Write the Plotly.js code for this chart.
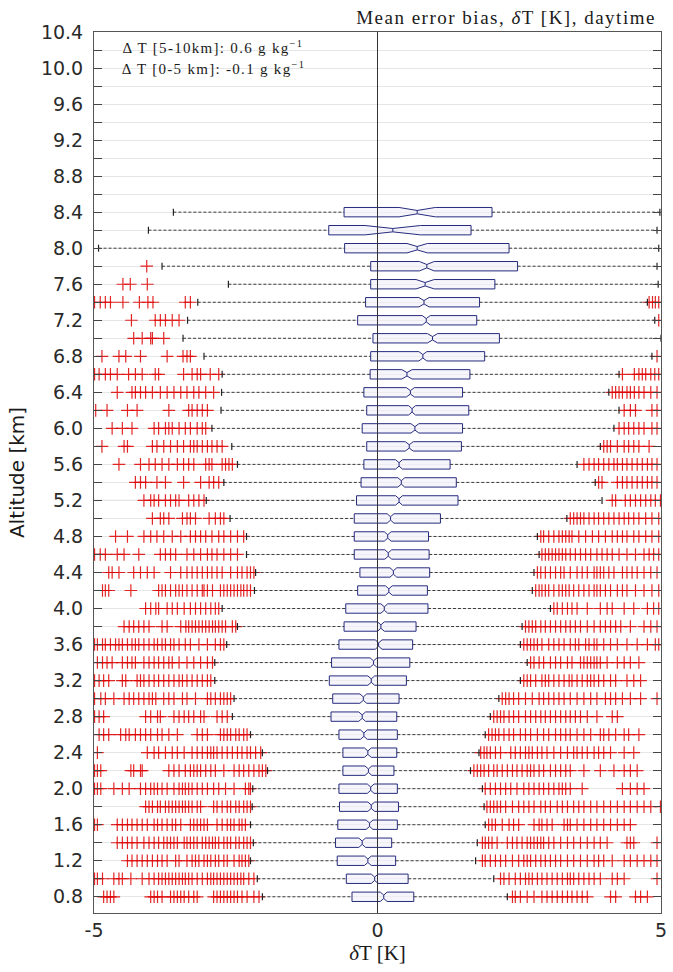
<!DOCTYPE html>
<html>
<head>
<meta charset="utf-8">
<script src="https://cdn.plot.ly/plotly-3.0.1.min.js"></script>
<style>
  html, body { margin: 0; padding: 0; background: #fff; }
  #chart { width: 673px; height: 972px; }
  /* the serif captions are set a little wider, like TeX text */
  #chart .gtitle { letter-spacing: 1.5px; }
  #chart .annotation-text { letter-spacing: 1.3px; }
</style>
</head>
<body>
<div id="chart"></div>
<script>
// Altitude levels [km] of each box, bottom to top
const altitude = [0.8, 1.0, 1.2, 1.4, 1.6, 1.8, 2.0, 2.2, 2.4, 2.6, 2.8, 3.0, 3.2, 3.4, 3.6, 3.8, 4.0, 4.2, 4.4, 4.6,
                  4.8, 5.0, 5.2, 5.4, 5.6, 5.8, 6.0, 6.2, 6.4, 6.6, 6.8, 7.0, 7.2, 7.4, 7.6, 7.8, 8.0, 8.2, 8.4];

// Box statistics of the temperature error dT [K]
const q1 = [-0.45, -0.55, -0.71, -0.74, -0.70, -0.67, -0.68, -0.61, -0.61, -0.68, -0.82, -0.79, -0.85, -0.81, -0.68, -0.59, -0.56, -0.35, -0.31, -0.41,
            -0.41, -0.41, -0.37, -0.29, -0.24, -0.19, -0.27, -0.19, -0.24, -0.13, -0.12, -0.08, -0.35, -0.21, -0.12, -0.12, -0.58, -0.86, -0.59];
const median = [0.11, -0.05, -0.17, -0.27, -0.14, -0.11, -0.12, -0.16, -0.17, -0.24, -0.27, -0.25, -0.11, -0.07, 0.02, 0.06, 0.12, 0.20, 0.28, 0.19,
                0.18, 0.23, 0.38, 0.42, 0.38, 0.56, 0.66, 0.61, 0.58, 0.52, 0.80, 0.97, 0.86, 0.82, 0.84, 0.87, 0.70, 0.27, 0.70];
const q3 = [0.64, 0.54, 0.32, 0.25, 0.35, 0.37, 0.35, 0.29, 0.34, 0.35, 0.34, 0.38, 0.51, 0.57, 0.62, 0.68, 0.89, 0.88, 0.92, 0.91,
            0.90, 1.11, 1.42, 1.39, 1.28, 1.48, 1.50, 1.61, 1.50, 1.63, 1.89, 2.15, 1.75, 1.80, 2.07, 2.47, 2.32, 1.65, 2.02];
const notchHalf = [0.06, 0.06, 0.06, 0.06, 0.06, 0.06, 0.06, 0.06, 0.06, 0.06, 0.06, 0.06, 0.06, 0.06, 0.06, 0.06, 0.06, 0.06, 0.06, 0.06,
                   0.06, 0.06, 0.06, 0.06, 0.06, 0.07, 0.07, 0.06, 0.07, 0.09, 0.07, 0.09, 0.07, 0.09, 0.16, 0.13, 0.18, 0.49, 0.32];
const whiskerLow = [-2.03, -2.12, -2.24, -2.19, -2.24, -2.21, -2.20, -1.94, -2.03, -2.24, -2.56, -2.53, -2.87, -2.87, -2.66, -2.47, -2.74, -2.17, -2.15, -2.31,
                    -2.31, -2.60, -3.02, -2.71, -2.47, -2.57, -2.92, -2.76, -2.75, -2.74, -3.06, -3.43, -3.35, -3.17, -2.63, -3.80, -4.92, -4.04, -3.60];
const whiskerHigh = [2.29, 2.05, 1.73, 1.76, 1.90, 1.88, 1.85, 1.64, 1.79, 1.90, 1.99, 2.14, 2.52, 2.64, 2.52, 2.55, 3.05, 2.73, 2.76, 2.85,
                     2.82, 3.34, 3.96, 3.84, 3.52, 3.93, 4.17, 4.26, 4.08, 4.26, 4.84, 5.00, 4.89, 4.76, 4.95, 4.93, 4.96, 4.93, 4.98];

// Outliers below the lower whisker, one list per altitude level
const outliersLow = [
  [-4.83,-4.77,-4.71,-4.65,-4.00,-3.94,-3.88,-3.80,-3.65,-3.59,-3.53,-3.47,-3.41,-3.33,-3.24,-3.18,-2.89,-2.83,-2.77,-2.71,-2.65,-2.59,-2.53,-2.47,-2.39,-2.30,-2.18,-2.09],
  [-4.99,-4.94,-4.85,-4.65,-4.56,-4.50,-4.35,-4.15,-4.03,-3.94,-3.86,-3.80,-3.74,-3.68,-3.62,-3.56,-3.50,-3.44,-3.39,-3.33,-3.27,-3.18,-3.09,-3.00,-2.94,-2.89,-2.83,-2.77,-2.71,-2.65,-2.59,-2.53,-2.47,-2.41,-2.36,-2.27,-2.18],
  [-4.41,-4.33,-4.24,-4.15,-4.06,-3.97,-3.88,-3.80,-3.71,-3.56,-3.50,-3.36,-3.27,-3.21,-3.15,-3.06,-3.00,-2.94,-2.86,-2.80,-2.71,-2.65,-2.53,-2.44,-2.39,-2.33,-2.27],
  [-4.59,-4.50,-4.41,-4.33,-4.24,-4.12,-4.03,-3.94,-3.86,-3.77,-3.71,-3.65,-3.59,-3.53,-3.41,-3.36,-3.30,-3.24,-3.18,-3.09,-3.03,-2.97,-2.91,-2.86,-2.80,-2.71,-2.65,-2.59,-2.50,-2.44,-2.36,-2.30,-2.24],
  [-4.99,-4.94,-4.59,-4.50,-4.41,-4.33,-4.24,-4.15,-4.06,-3.94,-3.88,-3.80,-3.71,-3.62,-3.56,-3.47,-3.30,-3.24,-3.18,-3.12,-3.06,-3.00,-2.83,-2.74,-2.65,-2.59,-2.53,-2.44,-2.39,-2.33],
  [-4.09,-4.03,-3.97,-3.88,-3.83,-3.74,-3.68,-3.62,-3.56,-3.50,-3.44,-3.39,-3.33,-3.27,-3.18,-3.12,-2.89,-2.83,-2.74,-2.65,-2.59,-2.50,-2.44,-2.36,-2.30,-2.24],
  [-4.99,-4.94,-4.88,-4.65,-4.50,-4.38,-4.18,-4.09,-4.00,-3.94,-3.88,-3.80,-3.71,-3.59,-3.50,-3.44,-3.39,-3.33,-3.27,-3.18,-3.09,-3.00,-2.89,-2.80,-2.68,-2.53,-2.33,-2.27,-2.24],
  [-4.99,-4.94,-4.88,-4.35,-4.30,-4.18,-4.15,-3.68,-3.59,-3.50,-3.39,-3.30,-3.24,-3.18,-3.12,-3.03,-2.94,-2.86,-2.71,-2.53,-2.44,-2.36,-2.27,-2.18,-2.09,-2.03,-1.97],
  [-4.94,-4.06,-3.94,-3.86,-3.74,-3.62,-3.53,-3.41,-3.27,-3.18,-3.09,-3.00,-2.94,-2.89,-2.83,-2.74,-2.65,-2.56,-2.47,-2.39,-2.30,-2.24,-2.15,-2.06],
  [-4.91,-4.83,-4.74,-4.53,-4.44,-4.38,-4.27,-4.18,-4.09,-4.00,-3.88,-3.80,-3.68,-3.53,-3.18,-3.09,-3.00,-2.77,-2.71,-2.65,-2.59,-2.50,-2.44,-2.36,-2.30],
  [-4.99,-4.91,-4.83,-4.09,-4.00,-3.88,-3.83,-3.59,-3.50,-3.41,-3.33,-3.24,-3.12,-3.06,-2.83,-2.74,-2.65],
  [-4.99,-4.88,-4.80,-4.65,-4.47,-4.38,-4.30,-4.21,-4.12,-4.03,-3.97,-3.91,-3.77,-3.68,-3.59,-3.44,-3.36,-3.21,-3.00,-2.94,-2.86,-2.77,-2.71,-2.65,-2.59],
  [-4.99,-4.91,-4.83,-4.74,-4.50,-4.44,-4.24,-4.18,-4.12,-4.03,-3.94,-3.86,-3.77,-3.68,-3.59,-3.50,-3.44,-3.36,-3.27,-3.18,-3.09,-3.00,-2.94],
  [-4.94,-4.85,-4.77,-4.68,-4.50,-4.41,-4.33,-4.27,-4.12,-4.03,-3.94,-3.86,-3.77,-3.68,-3.62,-3.50,-3.36,-3.24,-3.12,-3.00,-2.91],
  [-4.99,-4.94,-4.85,-4.80,-4.71,-4.62,-4.56,-4.50,-4.41,-4.33,-4.27,-4.21,-4.12,-4.03,-3.94,-3.88,-3.80,-3.74,-3.65,-3.59,-3.50,-3.39,-3.30,-3.15,-3.00,-2.86,-2.77,-2.71],
  [-4.47,-4.38,-4.30,-4.21,-4.12,-4.03,-3.80,-3.71,-3.47,-3.38,-3.33,-3.27,-3.21,-3.15,-3.09,-3.03,-2.97,-2.91,-2.86,-2.80,-2.74,-2.68,-2.56,-2.50],
  [-4.09,-4.00,-3.91,-3.86,-3.71,-3.62,-3.53,-3.41,-3.30,-3.21,-3.12,-3.03,-2.94,-2.86,-2.80],
  [-4.85,-4.80,-4.74,-4.35,-3.86,-3.80,-3.74,-3.65,-3.56,-3.50,-3.44,-3.36,-3.27,-3.18,-3.09,-3.06,-3.00,-2.91,-2.77,-2.71,-2.65,-2.59,-2.53,-2.47,-2.41,-2.36,-2.30,-2.24],
  [-4.74,-4.68,-4.56,-4.30,-4.18,-4.06,-3.94,-3.65,-3.47,-3.36,-3.27,-3.18,-3.09,-3.00,-2.92,-2.83,-2.74,-2.59,-2.47,-2.39,-2.30,-2.24,-2.18],
  [-4.99,-4.89,-4.80,-4.59,-4.47,-4.21,-3.83,-3.74,-3.65,-3.56,-3.36,-3.24,-3.12,-3.00,-2.92,-2.83,-2.71,-2.59,-2.47],
  [-4.62,-4.41,-4.12,-4.00,-3.89,-3.77,-3.62,-3.47,-3.30,-3.21,-3.12,-3.03,-2.92,-2.80,-2.71,-2.59,-2.47,-2.36],
  [-3.97,-3.83,-3.77,-3.68,-3.44,-3.36,-3.30,-3.21,-2.97,-2.86,-2.77,-2.71],
  [-4.12,-4.00,-3.94,-3.86,-3.74,-3.65,-3.56,-3.50,-3.33,-3.24,-3.15,-3.06],
  [-4.27,-4.18,-4.09,-3.89,-3.74,-3.42,-3.12,-2.97,-2.89,-2.80],
  [-4.56,-4.18,-4.03,-3.92,-3.80,-3.68,-3.53,-3.42,-3.33,-3.24,-3.03,-2.97,-2.92,-2.74,-2.68,-2.62,-2.56],
  [-4.86,-4.47,-4.41,-3.97,-3.89,-3.77,-3.65,-3.53,-3.42,-3.30,-3.24,-3.18,-3.09,-3.00,-2.92,-2.83,-2.74],
  [-4.68,-4.50,-4.33,-3.94,-3.86,-3.74,-3.68,-3.62,-3.50,-3.39,-3.30,-3.18,-3.09,-3.03],
  [-4.97,-4.77,-4.41,-4.24,-3.68,-3.33,-3.27,-3.18,-3.09,-3.00],
  [-4.59,-4.33,-4.27,-4.18,-4.09,-3.97,-3.83,-3.71,-3.59,-3.47,-3.36,-3.24,-3.15,-3.03,-2.89],
  [-4.99,-4.91,-4.80,-4.71,-4.59,-4.39,-4.27,-4.15,-3.92,-3.86,-3.42,-3.27,-3.18,-3.12,-2.95,-2.80],
  [-4.86,-4.56,-4.44,-4.18,-3.71,-3.43,-3.36,-3.30],
  [-4.30,-4.15,-4.00,-3.97,-3.77],
  [-4.34,-3.92,-3.83,-3.74,-3.62,-3.50],
  [-4.99,-4.89,-4.80,-4.71,-4.49,-4.20,-4.05,-3.96,-3.39,-3.30],
  [-4.49,-4.36,-4.06],
  [-4.07],
  [],
  [],
  []
];

// Outliers above the upper whisker, one list per altitude level
const outliersHigh = [
  [2.38,2.43,2.52,2.64,2.76,2.90,2.99,3.08,3.17,3.26,3.35,3.43,3.52,3.61,3.70,4.11,4.20,4.55,4.64,4.76],
  [2.17,2.23,2.32,2.43,2.52,2.61,2.67,2.73,2.82,2.90,2.99,3.08,3.17,3.26,3.35,3.40,3.46,3.55,3.64,3.73,3.82,3.93,4.14,4.23,4.35,4.93],
  [1.85,1.90,1.99,2.08,2.17,2.26,2.38,2.49,2.58,2.64,2.70,2.79,2.88,2.96,3.05,3.14,3.23,3.35,3.46,3.58,3.70,3.82,3.90,3.99,4.14,4.35,4.46,4.58,4.70,4.82,4.93],
  [1.85,1.90,1.96,2.02,2.11,2.29,2.38,2.46,2.55,2.64,2.70,2.76,2.82,2.88,2.93,3.02,3.11,3.23,3.35,3.46,3.58,3.70,3.82,3.93,4.05,4.40,4.46,4.52,4.93],
  [1.96,2.02,2.08,2.20,2.32,2.40,2.49,2.76,2.85,2.90,2.99,3.08,3.29,3.35,3.40,3.52,3.64,3.76,3.87,3.99,4.11,4.23,4.35,4.46],
  [1.93,1.99,2.05,2.11,2.17,2.26,2.38,2.49,2.58,2.67,2.76,2.88,2.96,3.05,3.17,3.26,3.35,3.46,3.55,3.64,3.76,3.87,3.99,4.11,4.23,4.35,4.46,4.58,4.70,4.82,4.99],
  [1.90,1.99,2.08,2.17,2.26,2.35,2.46,2.58,2.67,2.76,2.85,2.93,3.02,3.11,3.20,3.26,3.32,3.40,3.61,4.32,4.46,4.58,4.70],
  [1.70,1.76,1.82,1.88,1.96,2.05,2.11,2.20,2.29,2.38,2.46,2.55,2.64,2.70,2.76,2.85,2.93,3.05,3.14,3.23,3.32,3.40,3.64,3.93,4.17,4.35,4.46,4.58],
  [1.82,1.88,1.93,1.99,2.08,2.17,2.35,2.43,2.52,2.61,2.67,2.73,2.82,2.90,2.99,3.11,3.23,3.35,3.46,3.52,3.61,3.70,3.82,3.90,3.99,4.11,4.35,4.52],
  [1.96,2.02,2.08,2.14,2.23,2.32,2.40,2.52,2.61,2.70,2.82,2.93,3.02,3.14,3.23,3.32,3.40,3.52,3.64,3.76,3.93,3.99,4.08,4.20,4.35,4.43,4.61],
  [2.05,2.11,2.17,2.23,2.32,2.40,2.49,2.61,2.70,2.79,2.88,2.96,3.05,3.14,3.23,3.32,3.40,3.49,3.58,3.70,3.87,4.14,4.23],
  [2.20,2.26,2.32,2.40,2.49,2.61,2.73,2.85,2.93,3.02,3.11,3.20,3.29,3.40,3.52,3.64,3.76,3.87,4.02,4.11,4.20,4.32,4.46,4.64,4.93],
  [2.58,2.64,2.70,2.79,2.90,2.96,3.02,3.11,3.20,3.29,3.38,3.43,3.52,3.61,3.70,3.76,3.82,3.90,3.99,4.11,4.20,4.40,4.52,4.64],
  [2.70,2.76,2.85,2.93,3.05,3.14,3.23,3.35,3.43,3.58,3.64,3.70,3.76,3.82,3.87,3.93,4.05,4.23,4.35,4.46,4.61],
  [2.58,2.64,2.70,2.76,2.82,2.90,3.02,3.11,3.20,3.29,3.40,3.49,3.55,3.67,3.73,3.82,3.87,3.99,4.11,4.23,4.40,4.58,4.76,4.90,4.96],
  [2.61,2.67,2.73,2.79,2.88,2.96,3.05,3.14,3.23,3.32,3.40,3.49,3.58,3.70,3.82,3.93,4.02,4.11,4.20,4.29,4.46,4.70,4.82,4.93],
  [3.11,3.17,3.26,3.35,3.43,3.52,3.70,3.93,4.05,4.14,4.35,4.52,4.76,4.87,4.96],
  [2.79,2.85,2.90,2.96,3.02,3.11,3.20,3.26,3.32,3.38,3.46,3.55,3.64,3.73,3.82,3.87,3.93,4.02,4.11,4.23,4.32,4.40,4.55,4.70,4.84,4.96],
  [2.82,2.88,2.96,3.05,3.14,3.23,3.29,3.40,3.52,3.61,3.70,3.82,3.87,3.93,3.99,4.08,4.17,4.32,4.40,4.49,4.58,4.70,4.82,4.93],
  [2.90,2.96,3.02,3.08,3.14,3.20,3.26,3.32,3.40,3.49,3.58,3.67,3.76,3.87,3.96,4.05,4.14,4.26,4.40,4.55,4.70,4.79,4.87,4.96],
  [2.88,2.93,3.02,3.11,3.20,3.26,3.32,3.38,3.43,3.55,3.67,3.79,3.90,4.02,4.14,4.23,4.32,4.40,4.52,4.61,4.73,4.84,4.96],
  [3.40,3.46,3.52,3.58,3.64,3.73,3.82,3.90,3.99,4.08,4.17,4.26,4.35,4.43,4.52,4.61,4.73,4.84,4.96],
  [4.14,4.20,4.37,4.46,4.55,4.64,4.73,4.82,4.90,4.99],
  [3.90,3.96,4.23,4.32,4.40,4.49,4.58,4.67,4.76,4.84,4.93],
  [3.64,3.73,3.82,3.90,3.99,4.08,4.17,4.23,4.32,4.40,4.49,4.58,4.67,4.76,4.84,4.93],
  [3.99,4.05,4.11,4.23,4.35,4.43,4.52,4.61,4.79],
  [4.26,4.35,4.43,4.52,4.61,4.70,4.84,4.93],
  [4.35,4.46,4.55,4.84,4.93],
  [4.14,4.20,4.26,4.32,4.40,4.46,4.53,4.61,4.70,4.82,4.93],
  [4.32,4.53,4.61,4.67,4.73,4.82,4.89,4.96],
  [4.93],
  [],
  [4.96],
  [4.79,4.85,4.90,4.96],
  [],
  [],
  [],
  [],
  []
];

// Labelled altitude ticks and the in-figure summary lines
const altitudeTicks = [0.8, 1.2, 1.6, 2.0, 2.4, 2.8, 3.2, 3.6, 4.0, 4.4, 4.8, 5.2, 5.6, 6.0, 6.4, 6.8, 7.2, 7.6, 8.0, 8.4, 8.8, 9.2, 9.6, 10.0, 10.4];
const errorTicks = [-5, 0, 5];
const summaryLines = [
  'Δ T [5-10km]: 0.6 g kg<sup>−1</sup>',
  'Δ T [0-5 km]: -0.1 g kg<sup>−1</sup>'
];

// ---- traces ----
const outX = [], outY = [];
altitude.forEach((alt, i) => {
  outliersLow[i].concat(outliersHigh[i]).forEach(v => { outX.push(v); outY.push(alt); });
});

const whiskX = [], whiskY = [];
const capX = [], capY = [];
altitude.forEach((alt, i) => {
  whiskX.push(whiskerLow[i], q1[i], null, q3[i], whiskerHigh[i], null);
  whiskY.push(alt, alt, null, alt, alt, null);
  capX.push(whiskerLow[i], whiskerHigh[i]);
  capY.push(alt, alt);
});

const outlierTrace = {
  type: 'scatter', mode: 'markers', x: outX, y: outY,
  marker: { symbol: 'cross-thin', size: 9, color: 'rgba(222,0,0,0.85)',
            line: { color: 'rgba(222,0,0,0.85)', width: 1.2 } },
  hoverinfo: 'skip', showlegend: false
};

const whiskerTrace = {
  type: 'scatter', mode: 'lines', x: whiskX, y: whiskY,
  line: { color: '#3a3a3a', width: 1, dash: '3px,2px' },
  connectgaps: false, hoverinfo: 'skip', showlegend: false
};

const capTrace = {
  type: 'scatter', mode: 'markers', x: capX, y: capY,
  marker: { symbol: 'line-ns', size: 5, line: { color: '#222', width: 1.2 } },
  hoverinfo: 'skip', showlegend: false
};

const boxTrace = {
  type: 'box', orientation: 'h',
  y: altitude, q1: q1, median: median, q3: q3,
  lowerfence: q1, upperfence: q3,
  notched: true, notchspan: notchHalf, notchwidth: 0.32,
  width: 0.104, whiskerwidth: 0,
  line: { color: '#262b7e', width: 1 },
  fillcolor: 'rgba(238,238,248,0.6)',
  boxpoints: false, hoverinfo: 'skip', showlegend: false
};

const serif = 'Liberation Serif, DejaVu Serif, serif';
const sans = 'DejaVu Sans, sans-serif';

const layout = {
  width: 673, height: 972,
  margin: { l: 94, r: 12, t: 32, b: 59 },
  paper_bgcolor: '#fff', plot_bgcolor: '#fff',
  showlegend: false,
  title: {
    text: 'Mean error bias, <i>δ</i>T [K], daytime',
    font: { family: serif, size: 19, color: '#1a1a1a' },
    xref: 'paper', x: 0.991, xanchor: 'right',
    yref: 'container', y: 0.982, yanchor: 'middle'
  },
  xaxis: {
    range: [-5, 5], tickvals: errorTicks, ticktext: errorTicks.map(String),
    showgrid: false, zeroline: false,
    showline: true, linecolor: '#555', linewidth: 1, mirror: true,
    ticks: 'inside', ticklen: 5, tickcolor: '#444',
    tickfont: { family: sans, size: 19, color: '#2a2a2a' },
    title: { text: '<i>δ</i>T [K]', font: { family: serif, size: 21, color: '#1a1a1a' }, standoff: 4 }
  },
  yaxis: {
    range: [0.62, 10.4], tickvals: altitudeTicks, ticktext: altitudeTicks.map(v => v.toFixed(1)),
    showgrid: true, gridcolor: '#e6e6e6', gridwidth: 1, zeroline: false,
    showline: true, linecolor: '#555', linewidth: 1, mirror: 'ticks',
    ticks: 'inside', ticklen: 8, tickcolor: '#444',
    minor: { tick0: 0.8, dtick: 0.2, showgrid: true, gridcolor: '#e6e6e6', ticks: 'inside', ticklen: 8, tickcolor: '#444' },
    tickfont: { family: sans, size: 19, color: '#2a2a2a' },
    ticklabelstandoff: 6,
    title: { text: 'Altitude [km]', font: { family: sans, size: 20, color: '#1a1a1a' }, standoff: 10 }
  },
  shapes: [
    { type: 'line', xref: 'x', yref: 'paper', x0: 0, x1: 0, y0: 0, y1: 1,
      line: { color: '#333', width: 1 }, layer: 'above' },
    { type: 'line', xref: 'paper', yref: 'y', x0: 0, x1: 1, y0: 5.2, y1: 5.2,
      line: { color: '#8a8a8a', width: 1 }, layer: 'below' }
  ],
  annotations: summaryLines.map((t, i) => ({
    text: t, xref: 'paper', yref: 'paper', x: 0.074, y: 0.983 - i * 0.024,
    xanchor: 'left', yanchor: 'middle', showarrow: false,
    font: { family: serif, size: 15, color: '#1a1a1a' }
  }))
};

Plotly.newPlot('chart', [outlierTrace, whiskerTrace, capTrace, boxTrace], layout,
  { displayModeBar: false, staticPlot: true });
</script>
</body>
</html>
